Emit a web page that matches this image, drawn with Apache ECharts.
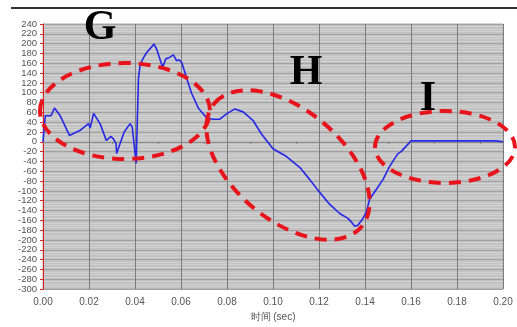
<!DOCTYPE html>
<html>
<head>
<meta charset="utf-8">
<script src="https://cdn.jsdelivr.net/npm/echarts@6/dist/echarts.min.js"></script>
<style>
html, body { margin: 0; padding: 0; background: #fff; }
#chart { width: 517px; height: 327px; }
</style>
</head>
<body>
<div id="chart"></div>
<script>
// time (sec) and signal value
var times = [0, 0.001, 0.0017, 0.0035, 0.005, 0.0075, 0.0115, 0.016, 0.0198, 0.0205,
    0.022, 0.0249, 0.0275, 0.0296, 0.0306, 0.0318, 0.032, 0.0353, 0.0379, 0.0388,
    0.0405, 0.0415, 0.0422, 0.0434, 0.0451, 0.0483, 0.0494, 0.052, 0.0534, 0.055,
    0.0567, 0.0581, 0.0591, 0.0603, 0.0625, 0.0646, 0.0675, 0.0711, 0.074, 0.0769,
    0.0798, 0.0834, 0.087, 0.0914, 0.095, 0.1, 0.1059, 0.1116, 0.116, 0.1203,
    0.1246, 0.129, 0.1326, 0.134, 0.1355, 0.1369, 0.1391, 0.1406, 0.142, 0.1449,
    0.1478, 0.1507, 0.1543, 0.1557, 0.16, 0.197, 0.2];
var values = [0, 53, 55, 53, 69, 53, 13, 23, 37, 28,
    58, 36, 3, 11, 6, -4, -24, 20, 37, 30,
    -44, 129, 156, 169, 182, 199, 189, 152, 169, 172,
    177, 165, 167, 162, 129, 99, 69, 49, 46, 46,
    57, 67, 61, 43, 16, -14, -30, -52, -77, -103,
    -127, -146, -156, -163, -172, -170, -156, -143, -117, -97,
    -77, -50, -24, -20, 2, 2, 0];
var regionLabels = ['G', 'H', 'I'];
var xName = '时间 (sec)';

var points = times.map(function(t, i) { return [t, values[i]]; });

var chart = echarts.init(document.getElementById('chart'));

var dashed = { fill: 'none', stroke: '#e8141c', lineWidth: 4, lineDash: [12, 8] };
var letterFont = { fontFamily: 'Liberation Serif', fontWeight: 'bold', fontSize: 42, fill: '#000', align: 'center', verticalAlign: 'middle' };

chart.setOption({
    animation: false,
    grid: {
        left: 43, right: 14, top: 24, bottom: 31,
        show: true,
        backgroundColor: '#c2c2c2',
        borderColor: '#a8a8a8',
        borderWidth: 1
    },
    xAxis: {
        type: 'value',
        min: 0, max: 0.2, interval: 0.02,
        name: xName,
        nameLocation: 'middle',
        nameGap: 22,
        nameTextStyle: { color: '#555', fontSize: 10, fontFamily: 'Liberation Sans' },
        axisLine: { lineStyle: { color: '#888' } },
        axisTick: { show: false },
        minorTick: { show: true, splitNumber: 2, length: 2, lineStyle: { color: '#777' } },
        axisLabel: {
            color: '#555', fontSize: 10, fontFamily: 'Liberation Sans', margin: 8,
            formatter: function(v) { return v.toFixed(2); }
        },
        splitLine: { show: true, lineStyle: { color: '#7c7c7c', width: 1 } }
    },
    yAxis: {
        type: 'value',
        min: -300, max: 240, interval: 20,
        axisLine: { show: true, lineStyle: { color: '#e02020', width: 1 } },
        axisTick: { show: true, length: 3, lineStyle: { color: '#e02020' } },
        axisLabel: { color: '#555', fontSize: 9.5, fontFamily: 'Liberation Sans', margin: 6 },
        splitLine: { show: true, lineStyle: { color: '#a2a2a2', width: 1 } },
        minorTick: { show: false, splitNumber: 4 },
        minorSplitLine: { show: true, lineStyle: { color: '#d2d2d2', width: 1 } }
    },
    series: [{
        type: 'line',
        data: points,
        symbol: 'none',
        lineStyle: { color: '#2626e8', width: 1.6 },
        z: 3
    }],
    graphic: [
        { type: 'line', shape: { x1: 11, y1: 8, x2: 517, y2: 8 }, style: { stroke: '#333', lineWidth: 2 }, z: 10 },
        { type: 'ellipse', shape: { cx: 125, cy: 111, rx: 85, ry: 48 }, style: dashed, z: 10 },
        { type: 'ellipse', x: 288, y: 165, rotation: -40 * Math.PI / 180, shape: { cx: 0, cy: 0, rx: 96, ry: 55 }, style: dashed, z: 10 },
        { type: 'ellipse', shape: { cx: 445, cy: 147, rx: 70, ry: 36 }, style: dashed, z: 10 },
        { type: 'text', x: 100, y: 28, style: Object.assign({ text: regionLabels[0] }, letterFont), z: 11 },
        { type: 'text', x: 306, y: 73, style: Object.assign({ text: regionLabels[1] }, letterFont), z: 11 },
        { type: 'text', x: 428, y: 99, style: Object.assign({ text: regionLabels[2] }, letterFont), z: 11 }
    ]
});
</script>
</body>
</html>
